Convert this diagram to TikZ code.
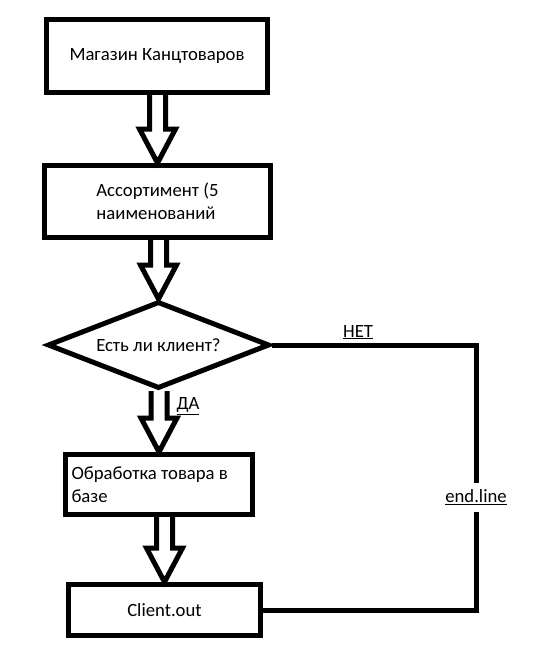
\documentclass[tikz,border=0pt]{standalone}
\usepackage{fontspec}
\setmainfont{Carlito}
\usetikzlibrary{shapes.geometric}

\tikzstyle{flow-box}=[draw, line width=5pt, rectangle, inner sep=6pt, font=\fontsize{18.7pt}{23pt}\selectfont]
\tikzstyle{flow-decision}=[draw, line width=5pt, diamond, aspect=2.55, inner sep=0pt, font=\fontsize{18.7pt}{23pt}\selectfont]
\tikzstyle{flow-line}=[line width=5pt]
\tikzstyle{flow-arrow}=[line width=5pt, line join=miter]
\tikzstyle{flow-label}=[inner sep=0pt, font=\fontsize{18.7pt}{23pt}\selectfont]

\newcommand{\hollowarrow}[2]{%
  \draw[flow-arrow] ([xshift=-8pt]#2.north |- #1.south)
        -- ([xshift=-8pt, yshift=34pt]#2.north)
        -- ([xshift=-18pt, yshift=34pt]#2.north)
        -- (#2.north)
        -- ([xshift=18pt, yshift=34pt]#2.north)
        -- ([xshift=8pt, yshift=34pt]#2.north)
        -- ([xshift=8pt]#2.north |- #1.south);}

\begin{document}
\begin{tikzpicture}[x=1pt, y=-1pt]
       \useasboundingbox (0, 0) rectangle (538, 662);
       \node (shop) at (157, 56)
             [flow-box, minimum width=221pt, minimum height=73pt] {Магазин Канцтоваров};
       \node (range) at (157.5, 201.5)
             [flow-box, minimum width=226pt, minimum height=72pt, align=left] {Ассортимент (5\\наименований};
       \node (client) at (158.5, 345)
             [flow-decision, minimum width=222pt, minimum height=87pt] {Есть ли клиент?};
       \node (base) at (159, 484.5)
             [flow-box, text width=175pt, align=flush left, minimum height=60pt] {Обработка товара в\\базе};
       \node (out) at (164.5, 610)
             [flow-box, minimum width=192pt, minimum height=51pt] {Client.out};
       \node (endline) at (476, 497.5)
             [flow-label, minimum height=29pt] {\underline{end.line}};
       \node (no) at (358, 332)
             [flow-label] {\underline{НЕТ}};
       \node (yes) at (188, 406)
             [flow-label] {\underline{ДА}};

      \hollowarrow{shop}{range}
      \hollowarrow{range}{client}
      \hollowarrow{client}{base}
      \hollowarrow{base}{out}

      \draw[flow-line] (client.east) -| (endline.north);
      \draw[flow-line] (endline.south) |- (out.east);
    \end{tikzpicture}
\end{document}
